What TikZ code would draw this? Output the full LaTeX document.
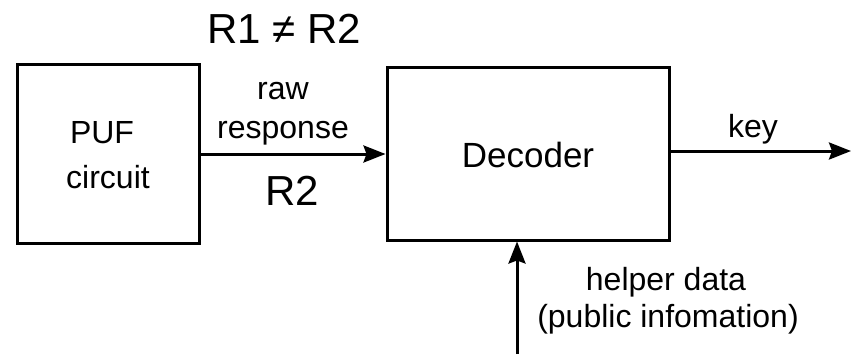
\documentclass[tikz,border=0pt]{standalone}
\usepackage{fontspec}
\setmainfont{Liberation Sans}
\usetikzlibrary{arrows.meta}
\begin{document}
\begin{tikzpicture}[x=1pt,y=-1pt,
  blk/.style={draw,line width=3pt,inner sep=0pt,align=center},
  conn/.style={line width=3pt,-{Stealth[length=22pt,width=17pt,inset=3pt]}},
  lbl/.style={anchor=base,inner sep=0pt}]
\useasboundingbox (0,0) rectangle (851,354);
% blocks
\node[blk,minimum width=182pt,minimum height=179pt] (puf) at (108,153.5) {};
\node[blk,minimum width=282pt,minimum height=173pt] (dec) at (528,153.5) {};
% block texts
\node[lbl,font=\fontsize{32}{38}\selectfont] (pufa) at (102,143) {PUF};
\node[lbl,font=\fontsize{32}{38}\selectfont] (pufb) at (108,188) {circuit};
\node[lbl,font=\fontsize{35}{42}\selectfont] (dect) at (528,167) {Decoder};
% connectors
\coordinate (keyend) at (851,151);
\coordinate (hstart) at (517,354);
\draw[conn] (puf.east |- 0,154) -- (dec.west |- 0,154);
\draw[conn] (dec.east |- keyend) -- (keyend);
\draw[conn] (hstart) -- (hstart |- dec.south);
% labels
\node[lbl,font=\fontsize{42}{50}\selectfont] (neq) at (284,43) {R1 ≠ R2};
\node[lbl,font=\fontsize{32}{38}\selectfont] (raw) at (283,99) {raw};
\node[lbl,font=\fontsize{32}{38}\selectfont] (resp) at (283,138) {response};
\node[lbl,font=\fontsize{42}{50}\selectfont] (rtwo) at (292,205) {R2};
\node[lbl,font=\fontsize{32}{38}\selectfont] (key) at (753,137) {key};
\node[lbl,font=\fontsize{32}{38}\selectfont] (help) at (666,290) {helper data};
\node[lbl,font=\fontsize{32}{38}\selectfont] (pub) at (668,327) {(public infomation)};
\end{tikzpicture}
\end{document}
